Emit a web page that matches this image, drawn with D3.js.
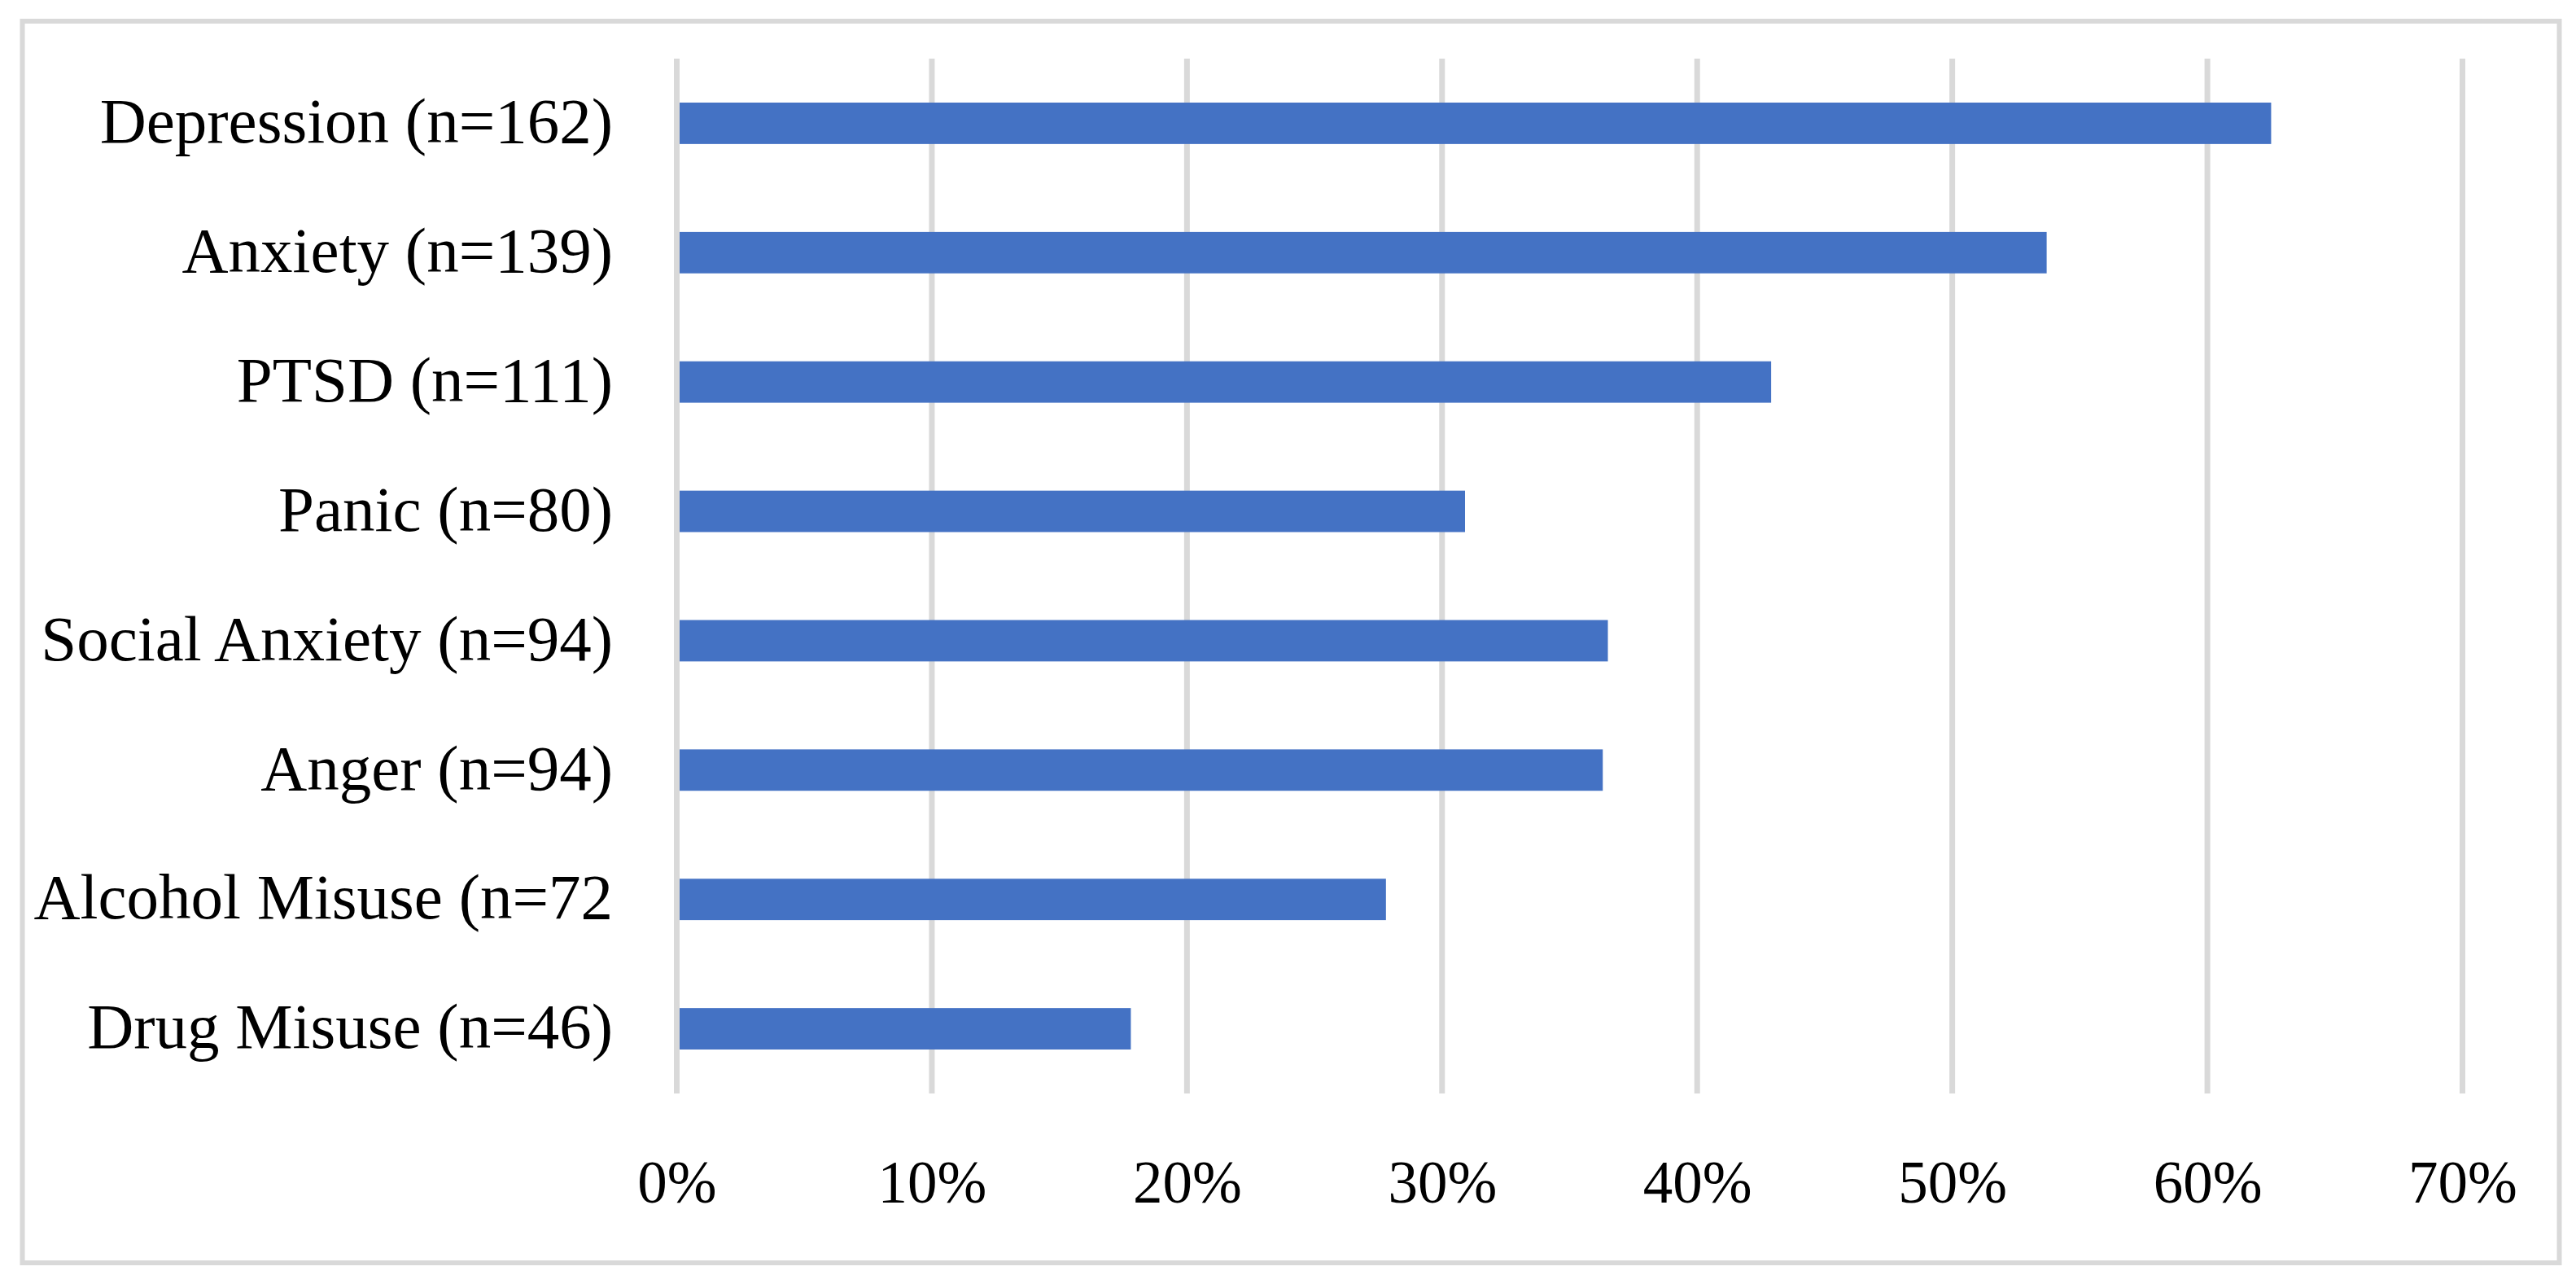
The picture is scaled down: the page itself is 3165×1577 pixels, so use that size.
<!DOCTYPE html>
<html>
<head>
<meta charset="utf-8">
<script src="https://cdnjs.cloudflare.com/ajax/libs/d3/7.8.5/d3.min.js"></script>
<style>
html,body{margin:0;padding:0;background:#fff;}
svg{display:block;}
</style>
</head>
<body>
<script>
const categories = ["Depression (n=162)", "Anxiety (n=139)", "PTSD (n=111)", "Panic (n=80)",
  "Social Anxiety (n=94)", "Anger (n=94)", "Alcohol Misuse (n=72", "Drug Misuse (n=46)"];
const values = [0.625, 0.537, 0.429, 0.309, 0.365, 0.363, 0.278, 0.178];
const tickValues = [0, 0.1, 0.2, 0.3, 0.4, 0.5, 0.6, 0.7];
const tickLabels = ["0%", "10%", "20%", "30%", "40%", "50%", "60%", "70%"];

const W = 3165, H = 1577;
const svg = d3.select("body").append("svg").attr("width", W).attr("height", H);

svg.append("rect").attr("x", 27.5).attr("y", 26).attr("width", 3117).attr("height", 1525)
  .attr("fill", "#fff").attr("stroke", "#d9d9d9").attr("stroke-width", 6);

const x = d3.scaleLinear().domain([0, 0.7]).range([831.5, 3025.5]);
const y = d3.scaleBand().domain(categories).range([72, 1343]).paddingInner(0.68).paddingOuter(0.34);

// gridlines
svg.append("g").selectAll("line").data(tickValues).join("line")
  .attr("x1", d => x(d)).attr("x2", d => x(d))
  .attr("y1", 72).attr("y2", 1343)
  .attr("stroke", "#d9d9d9").attr("stroke-width", 7);

// bars
svg.append("g").selectAll("rect").data(values).join("rect")
  .attr("x", x(0) + 3.5)
  .attr("y", (d, i) => y(categories[i]))
  .attr("width", d => x(d) - x(0) - 3.5)
  .attr("height", y.bandwidth())
  .attr("fill", "#4472C4");

// x axis labels
const xAxis = d3.axisBottom(x).tickValues(tickValues).tickFormat((d, i) => tickLabels[i]).tickSize(0).tickPadding(0);
const gx = svg.append("g").attr("transform", "translate(0,1477)").call(xAxis);
gx.select(".domain").remove();
gx.selectAll("text").attr("dy", 0).attr("y", 0)
  .attr("font-family", "'Liberation Serif', 'Times New Roman', serif")
  .attr("font-size", 73).attr("fill", "#000");

// y axis labels
const yAxis = d3.axisLeft(y).tickSize(0).tickPadding(0);
const gy = svg.append("g").attr("transform", "translate(753,0)").call(yAxis);
gy.select(".domain").remove();
gy.selectAll("text").attr("dy", "0.3em")
  .attr("font-family", "'Liberation Serif', 'Times New Roman', serif")
  .attr("font-size", 79).attr("fill", "#000");
</script>
</body>
</html>
